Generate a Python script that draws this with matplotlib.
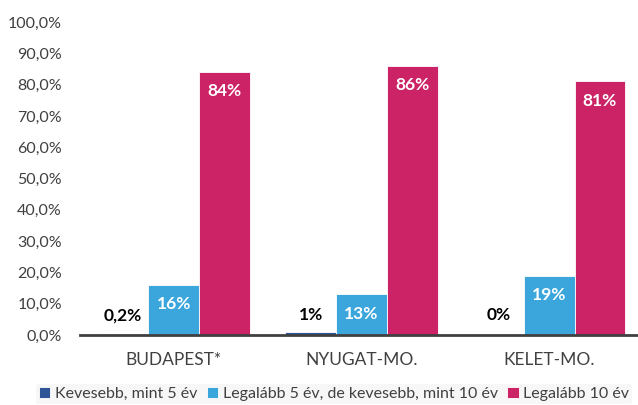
import numpy as np
import matplotlib.pyplot as plt
from matplotlib.ticker import FuncFormatter

categories = ['BUDAPEST*', 'NYUGAT-MO.', 'KELET-MO.']
series_names = ['Kevesebb, mint 5 év',
                'Legalább 5 év, de kevesebb, mint 10 év',
                'Legalább 10 év']
less5 = [0.2, 1.0, 0.0]
between = [16, 13, 19]
atleast10 = [84, 86, 81]
labels_less5 = ['0,2%', '1%', '0%']
colors = ['#2E5597', '#3AA6DC', '#CC2366']

plt.rcParams['font.family'] = ['Lato', 'DejaVu Sans']

fig = plt.figure(figsize=(6.38, 4.05), dpi=100)
ax = fig.add_axes([80/638, 70/405, 563/638, 313/405])

x = np.arange(len(categories))
w = 0.27
series = [less5, between, atleast10]
for i, (vals, col, name) in enumerate(zip(series, colors, series_names)):
    bars = ax.bar(x + (i - 1) * w, vals, w, color=col, label=name,
                  edgecolor='white', linewidth=0.6)
    for j, b in enumerate(bars):
        h = b.get_height()
        cx = b.get_x() + b.get_width() / 2
        if i == 0:
            ax.text(cx, 6.3, labels_less5[j], ha='center', va='center',
                    fontsize=12.5, fontweight='bold', color='black')
        else:
            ax.text(cx, h - 6.2, f'{int(h)}%', ha='center', va='center',
                    fontsize=12.5, fontweight='bold', color='white')

ax.set_xlim(-0.5, 2.5)
ax.set_ylim(0, 100)
ax.set_yticks(np.arange(0, 101, 10))
ax.yaxis.set_major_formatter(FuncFormatter(lambda v, p: f'{v:.1f}%'.replace('.', ',')))
ax.set_xticks(x)
ax.set_xticklabels(categories)
ax.tick_params(axis='y', length=0, pad=13, labelsize=11.5, labelcolor='#404040')
ax.tick_params(axis='x', length=0, pad=12, labelsize=12.5, labelcolor='#404040')

for s in ['top', 'right', 'left']:
    ax.spines[s].set_visible(False)
ax.spines['bottom'].set_color('#404040')
ax.spines['bottom'].set_linewidth(2)

leg = fig.legend(loc='center', bbox_to_anchor=(334/638, 1 - 394/405), ncol=3,
                 frameon=True, fontsize=11.5, handlelength=0.7, handleheight=0.7,
                 handletextpad=0.3, columnspacing=0.6, borderpad=0.2)
leg.get_frame().set_facecolor('#F5F5F5')
leg.get_frame().set_edgecolor('none')
for t in leg.get_texts():
    t.set_color('#404040')

fig.savefig('out.png', dpi=100)
